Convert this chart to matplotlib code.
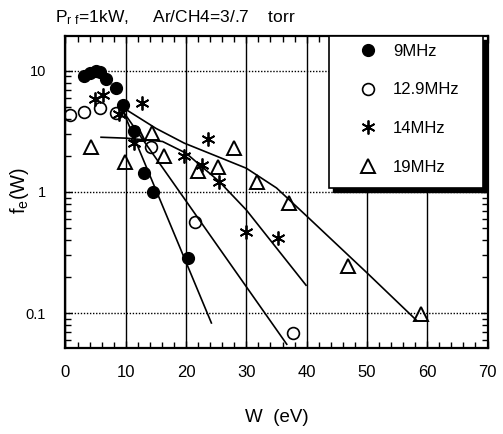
import matplotlib
matplotlib.use('Agg')
import matplotlib.pyplot as plt
from matplotlib.patches import Rectangle
from matplotlib.ticker import MultipleLocator, LogLocator, NullFormatter, FixedLocator, FixedFormatter
from matplotlib.lines import Line2D

plt.rcParams['font.family'] = ['Liberation Sans', 'DejaVu Sans']

# ---- data ----
w_9 = [3.0, 4.0, 5.0, 5.8, 6.8, 8.4, 9.5, 11.4, 13.1, 14.5, 20.3]
f_9 = [9.1, 9.6, 9.9, 9.8, 8.6, 7.2, 5.2, 3.2, 1.43, 1.0, 0.286]

w_129 = [0.7, 3.0, 5.8, 8.4, 14.2, 21.4, 37.7]
f_129 = [4.33, 4.6, 4.9, 4.47, 2.37, 0.57, 0.068]

w_14 = [4.9, 6.3, 8.8, 11.3, 12.7, 19.6, 22.7, 23.6, 25.4, 30.0, 35.3]
f_14 = [5.87, 6.33, 4.41, 2.54, 5.41, 2.0, 1.67, 2.73, 1.21, 0.465, 0.42]

w_19 = [4.3, 9.95, 12.0, 14.4, 16.4, 21.9, 25.3, 28.0, 31.7, 37.1, 46.8, 59.0]
f_19 = [2.37, 1.78, 3.02, 3.04, 1.97, 1.49, 1.60, 2.30, 1.20, 0.81, 0.246, 0.098]

# fitted curves drawn in the figure
fit9_w = [9.6, 24.2]
fit9_f = [4.58, 0.083]
fit129_w = [9.6, 36.7]
fit129_f = [4.58, 0.0554]
fit14_w = [5.9, 10.1, 16.1, 20.0, 25.5, 30.0, 39.9]
fit14_f = [2.83, 2.78, 2.61, 2.09, 1.22, 0.71, 0.17]
fit19_w = [10.3, 15.0, 19.7, 25.0, 30.0, 35.0, 39.9, 50.1, 58.2]
fit19_f = [4.70, 3.35, 2.53, 1.98, 1.57, 1.08, 0.64, 0.213, 0.0875]

labels = ['9MHz', '12.9MHz', '14MHz', '19MHz']
x_ticks = [0, 10, 20, 30, 40, 50, 60, 70]
y_ticks = [0.1, 1, 10]
y_ticklabels = ['0.1', '1', '10']

# ---- figure ----
fig = plt.figure(figsize=(5.03, 4.34), dpi=100)
ax = fig.add_axes([0.1302, 0.1982, 0.8390, 0.7190])
ax.set_yscale('log')
ax.set_xlim(0, 70)
ax.set_ylim(0.0516, 19.4)

for s in ax.spines.values():
    s.set_linewidth(1.6)

ax.xaxis.set_major_locator(FixedLocator(x_ticks))
ax.xaxis.set_minor_locator(MultipleLocator(2))
ax.yaxis.set_major_locator(FixedLocator(y_ticks))
ax.yaxis.set_major_formatter(FixedFormatter(y_ticklabels))
ax.yaxis.set_minor_locator(LogLocator(base=10, subs=range(2, 10)))
ax.yaxis.set_minor_formatter(NullFormatter())

ax.tick_params(which='both', direction='in', top=True, right=True, width=1.0)
ax.tick_params(which='major', length=5)
ax.tick_params(which='minor', length=4)
ax.tick_params(axis='x', which='major', labelsize=12, pad=12)
ax.tick_params(axis='y', which='major', labelsize=10.5, pad=14)

ax.grid(axis='x', which='major', color='black', lw=1.0, ls='-', zorder=0)
ax.grid(axis='y', which='major', color='black', lw=1.0, ls=(0, (1, 1.2)), zorder=0)
ax.set_axisbelow(True)

# fit curves
for fw, ff in [(fit9_w, fit9_f), (fit129_w, fit129_f), (fit14_w, fit14_f), (fit19_w, fit19_f)]:
    ax.plot(fw, ff, color='black', lw=1.2, zorder=2)

# data points
ax.plot(w_9, f_9, ls='none', marker='o', ms=8.5, mfc='black', mec='black', zorder=3)
ax.plot(w_129, f_129, ls='none', marker='o', ms=8.5, mfc='none', mec='black', mew=1.2, zorder=3)
ax.plot(w_14, f_14, ls='none', marker=(6, 2, 0), ms=10, mec='black', mew=1.3, zorder=3)
ax.plot(w_19, f_19, ls='none', marker='^', ms=9.5, mfc='none', mec='black', mew=1.4, zorder=3)

# legend box with black shadow
dx, dy = 4 / 422, 4 / 312
x0, y0, bw, bh = 0.624, 0.513, 0.365, 0.487
ax.add_patch(Rectangle((x0 + dx, y0 - dy), bw, bh, transform=ax.transAxes,
                       facecolor='black', edgecolor='black', lw=1.0, zorder=5, clip_on=False))
ax.add_patch(Rectangle((x0, y0), bw, bh, transform=ax.transAxes,
                       facecolor='white', edgecolor='black', lw=1.2, zorder=6, clip_on=False))

handles = [
    Line2D([], [], ls='none', marker='o', ms=8.5, mfc='black', mec='black'),
    Line2D([], [], ls='none', marker='o', ms=8.5, mfc='none', mec='black', mew=1.2),
    Line2D([], [], ls='none', marker=(6, 2, 0), ms=10, mec='black', mew=1.3),
    Line2D([], [], ls='none', marker='^', ms=9.5, mfc='none', mec='black', mew=1.4),
]
leg = ax.legend(handles, labels, loc='upper left', bbox_to_anchor=(0.697, 0.975),
                frameon=False, fontsize=12, handlelength=1.0, handletextpad=1.0,
                labelspacing=1.42, borderpad=0.0, borderaxespad=0.0)
leg.set_zorder(7)

# axis labels
ax.set_xlabel('W  (eV)', fontsize=13.5)
ax.xaxis.set_label_coords(0.5, -0.224)
ax.xaxis.label.set_va('center')
ax.set_ylabel(r'$\mathregular{f_e}$(W)', fontsize=14.5)
ax.yaxis.set_label_coords(-0.108, 0.506)
ax.yaxis.label.set_va('center')

fig.text(55 / 503, 1 - 22 / 434, r'$\mathregular{P_{r\ f}}$=1kW,     Ar/CH4=3/.7    torr',
         fontsize=12.5, va='baseline', ha='left')

fig.savefig('out.png', dpi=100)
